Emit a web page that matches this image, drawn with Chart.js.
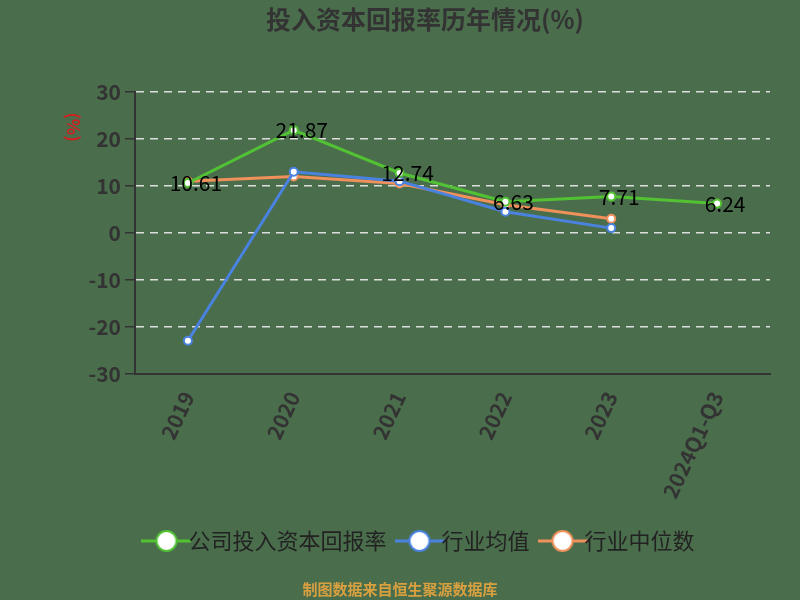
<!DOCTYPE html>
<html>
<head>
<script src="https://cdn.jsdelivr.net/npm/chart.js@4.4.0/dist/chart.umd.min.js"></script>
<style>
body{margin:0;background:#4a6e4c;}
#wrap{width:800px;height:600px;position:relative;}
#foot{position:absolute;left:0;width:800px;top:578px;text-align:center;color:#d9a040;font:bold 15px "Noto Sans CJK SC";}
</style>
</head>
<body>
<div id="wrap"><canvas id="c" width="800" height="600"></canvas><div id="foot">制图数据来自恒生聚源数据库</div></div>
<script>
const categories = ['2019', '2020', '2021', '2022', '2023', '2024Q1-Q3'];
const companyValues = [10.61, 21.87, 12.74, 6.63, 7.71, 6.24];
const industryAvg = [-23, 13, 11, 4.5, 1, null];
const industryMedian = [11, 12, 10.5, 6, 3, null];
const yTicks = [30, 20, 10, 0, -10, -20, -30];

const font = '"Noto Sans CJK SC", "Noto Sans", sans-serif';

// 图例图标: 线 + 圆点
function legendIcon(color) {
  const c = document.createElement('canvas');
  c.width = 50; c.height = 24;
  const g = c.getContext('2d');
  g.strokeStyle = color; g.lineWidth = 3;
  g.beginPath(); g.moveTo(0, 12); g.lineTo(50, 12); g.stroke();
  g.fillStyle = '#fff'; g.lineWidth = 2;
  g.beginPath(); g.arc(25, 12, 10, 0, Math.PI * 2); g.fill(); g.stroke();
  return c;
}

const labelPlugin = {
  id: 'labels',
  afterDatasetsDraw(chart) {
    const ctx = chart.ctx;
    const meta = chart.getDatasetMeta(0);
    ctx.save();
    ctx.font = '21px ' + font;
    ctx.fillStyle = '#000';
    ctx.textAlign = 'center';
    ctx.textBaseline = 'middle';
    meta.data.forEach((p, i) => ctx.fillText(companyValues[i].toFixed(2), p.x + 8, p.y));
    ctx.restore();
  }
};

const unitPlugin = {
  id: 'unit',
  afterDraw(chart) {
    const ctx = chart.ctx;
    ctx.save();
    ctx.translate(73, 127);
    ctx.rotate(Math.PI / 2);
    ctx.font = 'bold 17px ' + font;
    ctx.fillStyle = '#d02020';
    ctx.textAlign = 'center';
    ctx.textBaseline = 'middle';
    ctx.fillText('(%)', 0, 0);
    ctx.restore();
  }
};

function ds(label, data, color) {
  return {
    label, data, borderColor: color, backgroundColor: '#fff',
    borderWidth: 3, pointRadius: 4, pointBorderWidth: 2, pointBorderColor: color,
    pointBackgroundColor: '#fff', tension: 0, pointStyle: legendIcon(color)
  };
}

new Chart(document.getElementById('c'), {
  type: 'line',
  data: {
    labels: categories,
    datasets: [
      ds('公司投入资本回报率', companyValues, '#52c234'),
      ds('行业均值', industryAvg, '#4a82e0'),
      ds('行业中位数', industryMedian, '#f0905a')
    ].map(d => Object.assign(d, { pointStyle: 'circle', legendIcon: d.pointStyle }))
  },
  options: {
    responsive: false,
    animation: false,
    layout: { padding: { left: 80, right: 30, bottom: 38 } },
    plugins: {
      title: { display: true, text: '投入资本回报率历年情况(%)', color: '#333', font: { family: font, size: 25, weight: 'bold' }, padding: { top: 4, bottom: 58 } },
      legend: {
        position: 'bottom',
        labels: {
          usePointStyle: true, color: '#222', font: { family: font, size: 22 }, padding: 22,
          generateLabels(chart) {
            return chart.data.datasets.map((d, i) => ({
              text: d.label, pointStyle: d.legendIcon, fontColor: '#222',
              strokeStyle: d.borderColor, fillStyle: '#fff', lineWidth: 0, datasetIndex: i, hidden: false
            }));
          }
        }
      },
      tooltip: { enabled: false }
    },
    scales: {
      x: {
        offset: true,
        grid: { display: false },
        border: { color: '#333', width: 2 },
        ticks: { color: '#333', font: { family: font, size: 21, weight: 'bold' }, maxRotation: 65, minRotation: 65, padding: 6 }
      },
      y: {
        min: -30, max: 30,
        afterBuildTicks(axis) { axis.ticks = yTicks.map(v => ({ value: v })); },
        afterFit(axis) { axis.width = 55; },
        grid: { color: '#ddd', lineWidth: 1.5, tickColor: '#333', tickLength: 10 },
        border: { color: '#333', width: 2, dash: [8, 6] },
        ticks: { color: '#333', font: { family: font, size: 21, weight: 'bold' }, padding: 4 }
      }
    }
  },
  plugins: [labelPlugin, unitPlugin]
});
</script>
</body>
</html>
